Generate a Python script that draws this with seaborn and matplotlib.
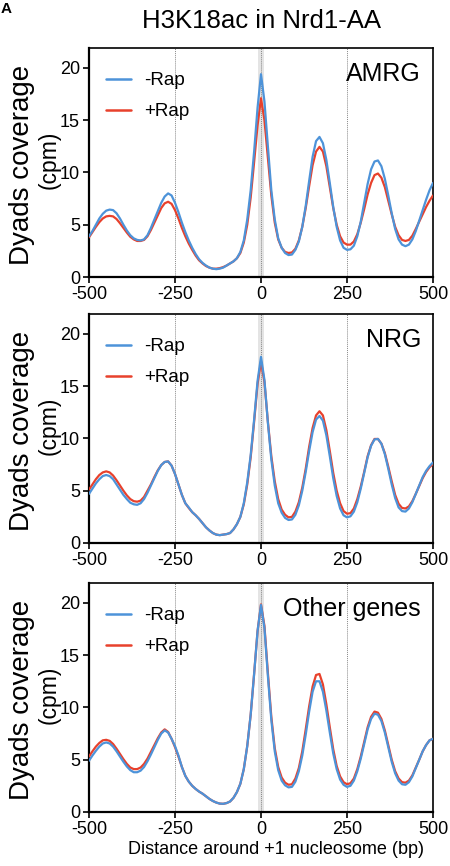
import numpy as np
import pandas as pd
import matplotlib
matplotlib.use("Agg")
import matplotlib.pyplot as plt
import seaborn as sns
from matplotlib.lines import Line2D

# ---------------- data ----------------
positions = list(range(-500, 501, 10))

amrg_minus = [3.9, 4.4, 5.0, 5.6, 6.05, 6.35, 6.45, 6.4, 6.1, 5.6,
              5.0, 4.45, 4.0, 3.7, 3.55, 3.5, 3.6, 4.0, 4.7, 5.5,
              6.3, 7.1, 7.7, 8.0, 7.8, 7.1, 6.2, 5.2, 4.3, 3.5,
              2.8, 2.2, 1.7, 1.35, 1.1, 0.9, 0.8, 0.75, 0.8, 0.9,
              1.1, 1.3, 1.5, 1.8, 2.4, 3.5, 5.5, 8.3, 12.0, 16.2,
              19.4, 16.8, 12.5, 8.3, 5.5, 3.7, 2.8, 2.3, 2.1, 2.15,
              2.6, 3.4, 4.8, 6.8, 9.2, 11.5, 13.0, 13.4, 12.8, 11.2,
              9.0, 6.7, 4.8, 3.5, 2.8, 2.6, 2.65, 3.0, 3.9, 5.3,
              7.1, 8.9, 10.3, 11.05, 11.15, 10.6, 9.4, 7.8, 6.1, 4.6,
              3.6, 3.1, 2.95, 3.1, 3.6, 4.4, 5.4, 6.4, 7.4, 8.3, 9.0]
amrg_plus = [3.8, 4.3, 4.8, 5.25, 5.6, 5.8, 5.85, 5.8, 5.55, 5.15,
             4.7, 4.25, 3.85, 3.6, 3.45, 3.45, 3.55, 3.9, 4.5, 5.2,
             5.9, 6.6, 7.05, 7.2, 7.0, 6.4, 5.6, 4.7, 3.9, 3.2,
             2.6, 2.05, 1.6, 1.3, 1.05, 0.9, 0.8, 0.8, 0.85, 0.95,
             1.1, 1.3, 1.5, 1.8, 2.3, 3.3, 5.0, 7.6, 11.0, 14.5,
             17.1, 15.0, 11.4, 7.8, 5.2, 3.6, 2.8, 2.4, 2.3, 2.35,
             2.7, 3.5, 4.8, 6.6, 8.7, 10.7, 12.0, 12.45, 12.0, 10.6,
             8.6, 6.6, 5.0, 3.9, 3.3, 3.1, 3.1, 3.4, 4.1, 5.2,
             6.5, 7.9, 9.0, 9.75, 9.9, 9.5, 8.6, 7.3, 6.0, 4.8,
             4.0, 3.55, 3.45, 3.55, 3.95, 4.6, 5.3, 6.0, 6.7, 7.3, 7.8]

nrg_minus = [4.7, 5.2, 5.7, 6.1, 6.4, 6.5, 6.4, 6.1, 5.6, 5.1,
             4.6, 4.2, 3.85, 3.7, 3.65, 3.8, 4.2, 4.8, 5.5, 6.2,
             6.9, 7.45, 7.75, 7.8, 7.4, 6.6, 5.6, 4.6, 3.8, 3.4,
             2.95, 2.65, 2.3, 1.9, 1.5, 1.2, 0.95, 0.8, 0.75, 0.8,
             0.85, 0.95, 1.3, 1.8, 2.5, 3.8, 5.8, 8.4, 11.8, 15.5,
             17.8, 15.6, 11.5, 8.0, 5.5, 3.8, 2.9, 2.4, 2.2, 2.25,
             2.7, 3.6, 5.0, 6.8, 8.8, 10.6, 11.8, 12.15, 11.7, 10.3,
             8.3, 6.2, 4.5, 3.3, 2.65, 2.45, 2.55, 3.0, 3.9, 5.2,
             6.7, 8.2, 9.3, 9.9, 9.95, 9.5, 8.5, 7.1, 5.6, 4.3,
             3.4, 3.05, 3.0, 3.3, 3.9, 4.7, 5.5, 6.3, 6.9, 7.35, 7.7]
nrg_plus = [5.1, 5.6, 6.1, 6.5, 6.75, 6.85, 6.75, 6.45, 6.0, 5.5,
            5.0, 4.55, 4.2, 4.0, 3.95, 4.05, 4.4, 5.0, 5.6, 6.3,
            6.95, 7.45, 7.75, 7.8, 7.4, 6.6, 5.6, 4.6, 3.8, 3.35,
            2.95, 2.65, 2.3, 1.9, 1.5, 1.2, 0.95, 0.8, 0.75, 0.8,
            0.85, 0.95, 1.3, 1.8, 2.5, 3.7, 5.6, 8.2, 11.6, 15.2,
            17.35, 15.4, 11.6, 8.3, 5.9, 4.2, 3.2, 2.7, 2.45, 2.5,
            3.0, 3.9, 5.3, 7.1, 9.2, 11.0, 12.2, 12.6, 12.2, 10.8,
            8.8, 6.7, 5.0, 3.8, 3.05, 2.8, 2.85, 3.3, 4.2, 5.4,
            6.8, 8.3, 9.35, 9.95, 9.95, 9.5, 8.6, 7.3, 5.9, 4.6,
            3.75, 3.35, 3.3, 3.5, 4.0, 4.7, 5.45, 6.2, 6.8, 7.25, 7.55]

other_minus = [4.9, 5.4, 5.85, 6.25, 6.55, 6.65, 6.55, 6.25, 5.8, 5.3,
               4.8, 4.35, 4.0, 3.8, 3.8, 3.95, 4.3, 4.85, 5.5, 6.2,
               6.9, 7.5, 7.8, 7.6, 7.0, 6.3, 5.4, 4.3, 3.45, 2.9,
               2.5, 2.2, 1.95, 1.75, 1.5, 1.25, 1.05, 0.9, 0.8, 0.78,
               0.85, 1.0, 1.35, 1.9, 2.7, 4.1, 6.3, 9.3, 13.2, 17.3,
               19.8, 17.6, 13.0, 8.8, 5.8, 4.0, 3.0, 2.55, 2.35, 2.4,
               2.9, 3.9, 5.4, 7.4, 9.6, 11.5, 12.5, 12.5, 11.5, 9.7,
               7.6, 5.6, 4.1, 3.1, 2.6, 2.4, 2.5, 3.0, 3.9, 5.1,
               6.5, 7.9, 8.9, 9.4, 9.3, 8.7, 7.6, 6.2, 4.8, 3.7,
               3.0, 2.65, 2.6, 2.85, 3.4, 4.2, 5.0, 5.8, 6.4, 6.85, 7.0]
other_plus = [5.3, 5.8, 6.25, 6.6, 6.85, 6.9, 6.8, 6.5, 6.05, 5.55,
              5.05, 4.6, 4.25, 4.1, 4.1, 4.25, 4.6, 5.1, 5.75, 6.4,
              7.05, 7.6, 7.9, 7.65, 7.0, 6.2, 5.3, 4.3, 3.45, 2.9,
              2.5, 2.2, 1.95, 1.75, 1.5, 1.25, 1.05, 0.9, 0.8, 0.78,
              0.85, 1.0, 1.35, 1.9, 2.7, 4.1, 6.3, 9.3, 13.2, 17.3,
              19.85, 17.8, 13.3, 9.1, 6.1, 4.3, 3.3, 2.8, 2.6, 2.65,
              3.2, 4.2, 5.8, 7.9, 10.1, 12.0, 13.1, 13.2, 12.2, 10.3,
              8.1, 6.0, 4.4, 3.4, 2.85, 2.65, 2.75, 3.2, 4.1, 5.3,
              6.7, 8.1, 9.1, 9.6, 9.5, 8.9, 7.8, 6.4, 5.0, 3.9,
              3.2, 2.85, 2.8, 3.0, 3.5, 4.25, 5.0, 5.8, 6.4, 6.85, 7.0]

panel_names = ["AMRG", "NRG", "Other genes"]
conditions = ["-Rap", "+Rap"]
x_ticks = [-500, -250, 0, 250, 500]
x_ticklabels = ["-500", "-250", "0", "250", "500"]
y_ticks = [0, 5, 10, 15, 20]
title = "H3K18ac in Nrd1-AA"
xlabel = "Distance around +1 nucleosome (bp)"

panels = {
    "AMRG": (amrg_minus, amrg_plus),
    "NRG": (nrg_minus, nrg_plus),
    "Other genes": (other_minus, other_plus),
}

# ---------------- style ----------------
sns.set_theme(style="white")
plt.rcParams["font.family"] = ["Liberation Sans", "DejaVu Sans"]
plt.rcParams["text.color"] = "black"
plt.rcParams["axes.labelcolor"] = "black"
plt.rcParams["xtick.color"] = "black"
plt.rcParams["ytick.color"] = "black"

BLUE = "#4d93d9"
RED = "#e8412c"
palette = {"-Rap": BLUE, "+Rap": RED}

fig = plt.figure(figsize=(4.5, 8.66), dpi=100)

axes_rects = [
    [0.1978, 0.6801, 0.7644, 0.2644],
    [0.1978, 0.3730, 0.7644, 0.2644],
    [0.1978, 0.0624, 0.7644, 0.2644],
]

for i, name in enumerate(panel_names):
    ax = fig.add_axes(axes_rects[i])
    minus, plus = panels[name]
    df = pd.DataFrame({
        "pos": positions * 2,
        "cov": list(plus) + list(minus),
        "cond": ["+Rap"] * len(plus) + ["-Rap"] * len(minus),
    })
    # reference guides
    ax.axvspan(-10, 10, color="#d9d9d9", alpha=0.7, lw=0, zorder=0)
    for xv in (-250, 0, 250):
        ax.axvline(xv, color="#888888", lw=0.7, ls=(0, (1, 1)), zorder=1)
    sns.lineplot(data=df, x="pos", y="cov", hue="cond",
                 hue_order=["+Rap", "-Rap"], palette=palette,
                 linewidth=1.6, legend=False, ax=ax, zorder=3)
    ax.set_xlim(-500, 500)
    ax.set_ylim(0, 21.9)
    ax.set_xticks(x_ticks)
    ax.set_xticklabels(x_ticklabels)
    ax.set_yticks(y_ticks)
    ax.tick_params(axis="both", labelsize=13, length=4, width=1.2,
                   direction="out", color="black", labelcolor="black",
                   bottom=True, left=True)
    ax.tick_params(axis="x", pad=2.5)
    ax.tick_params(axis="y", pad=2.5)
    for side in ["left", "bottom"]:
        ax.spines[side].set_linewidth(1.6)
        ax.spines[side].set_color("black")
    for side in ["top", "right"]:
        ax.spines[side].set_linewidth(1.2)
        ax.spines[side].set_color("black")
    ax.set_xlabel("")
    ax.set_ylabel("")
    ax.text(-0.195, 0.49, "Dyads coverage", transform=ax.transAxes,
            rotation=90, ha="center", va="center", fontsize=20,
            color="black")
    ax.text(-0.115, 0.51, "(cpm)", transform=ax.transAxes,
            rotation=90, ha="center", va="center", fontsize=16.5,
            color="black")
    ax.text(0.965, 0.94, name, transform=ax.transAxes,
            ha="right", va="top", fontsize=18, color="black")
    handles = [Line2D([0], [0], color=palette[c], lw=1.8) for c in conditions]
    leg = ax.legend(handles, conditions, loc="upper left", frameon=False,
                    fontsize=13.5, handlelength=1.35, handletextpad=0.7,
                    labelspacing=0.75, borderaxespad=0.3,
                    bbox_to_anchor=(0.01, 0.952))
    for t in leg.get_texts():
        t.set_color("black")
    if i == 2:
        ax.set_xlabel(xlabel, fontsize=13, labelpad=4, color="black")
        ax.xaxis.set_label_coords(0.544, -0.125)

fig.text(0.582, 0.976, title, ha="center", va="center", fontsize=18.5)
fig.text(0.002, 0.998, "A", ha="left", va="top", fontsize=11, fontweight="bold")

fig.savefig("out.png", dpi=100)
